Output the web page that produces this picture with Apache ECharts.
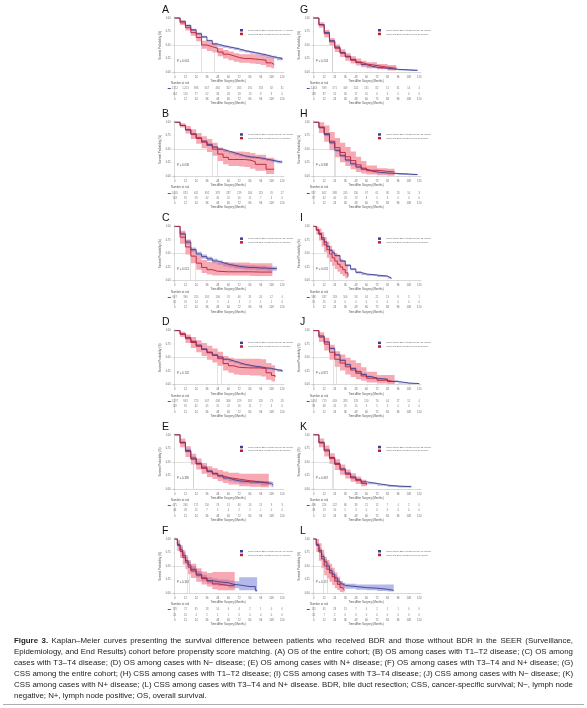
<!DOCTYPE html>
<html><head><meta charset="utf-8">
<script src="https://cdn.jsdelivr.net/npm/echarts@6/dist/echarts.min.js"></script>
<style>html,body{margin:0;padding:0;background:#fff}#c{width:587px;height:708px}</style>
</head><body><div id="c"></div><script>
// ---------- data ----------
const timeTicks = [0,12,24,36,48,60,72,84,96,108,120];
const yTicks = [0,0.25,0.5,0.75,1];
const panelLetters = ['A','B','C','D','E','F','G','H','I','J','K','L'];
const pLabels = ['P = 0.001','P = 0.038','P = 0.021','P = 0.102','P = 0.385','P = 0.362','P = 0.224','P = 0.938','P = 0.031','P = 0.871','P = 0.467','P = 0.157'];
const medianNoBDR = [44,48,23,52,21,16,21,23,22,26,22,16];
const medianBDR   = [30,42,17,47,21,14,21,25,18,22,21,11];
const seriesNameNoBDR = 'Cases without BDR (Median survival: {m} months)';
const seriesNameBDR   = 'Cases with BDR (Median survival: {m} months)';

// curves: [time, survival, lower CI, upper CI]
const A_noBDR = [[0,1,1,1],[6,.94,.93,.95],[12,.86,.84,.88],[18,.78,.76,.80],[24,.71,.69,.73],[30,.65,.63,.67],[36,.58,.56,.60],[42,.52,.50,.54],[48,.49,.47,.51],[54,.47,.45,.49],[60,.45,.43,.47],[66,.43,.41,.45],[72,.40,.38,.42],[78,.38,.36,.40],[84,.36,.34,.38],[90,.34,.32,.36],[96,.32,.30,.34],[102,.29,.27,.32],[108,.27,.25,.30],[114,.25,.22,.28],[120,.23,.20,.26]];
const A_BDR = [[0,1,1,1],[6,.91,.87,.95],[12,.82,.77,.87],[18,.73,.67,.79],[24,.64,.57,.71],[30,.50,.43,.58],[36,.47,.39,.55],[42,.44,.36,.52],[48,.37,.29,.45],[54,.33,.25,.41],[60,.30,.22,.38],[66,.27,.19,.35],[72,.25,.17,.33],[78,.25,.17,.33],[84,.24,.16,.33],[90,.23,.15,.32],[96,.22,.13,.32],[102,.17,.09,.28],[108,.14,.07,.26],[111,.14,.07,.26]];
const B_noBDR = [[0,1,1,1],[6,.94,.93,.95],[12,.86,.84,.88],[18,.78,.76,.80],[24,.71,.69,.73],[30,.65,.63,.67],[36,.59,.57,.61],[42,.54,.52,.56],[48,.50,.48,.52],[54,.47,.45,.49],[60,.44,.42,.46],[66,.41,.39,.43],[72,.38,.36,.40],[78,.36,.34,.38],[84,.35,.33,.37],[90,.34,.32,.36],[96,.32,.30,.34],[102,.30,.28,.32],[108,.28,.26,.31],[114,.26,.24,.29],[120,.25,.22,.28]];
const B_BDR = [[0,1,1,1],[6,.94,.90,.98],[12,.86,.79,.93],[18,.78,.69,.87],[24,.70,.60,.80],[30,.63,.52,.74],[36,.57,.45,.69],[42,.50,.38,.62],[48,.41,.28,.53],[54,.35,.22,.48],[60,.31,.19,.46],[66,.31,.19,.46],[72,.31,.18,.46],[78,.30,.17,.45],[84,.27,.14,.43],[90,.22,.10,.40],[96,.22,.10,.40],[102,.13,.04,.34],[108,.13,.04,.34],[111,.13,.04,.34]];
const C_noBDR = [[0,1,1,1],[6,.86,.83,.89],[12,.71,.67,.75],[18,.57,.53,.61],[24,.49,.45,.53],[30,.44,.40,.48],[36,.40,.36,.44],[42,.36,.32,.40],[48,.33,.29,.37],[54,.30,.26,.34],[60,.28,.24,.32],[66,.26,.22,.30],[72,.25,.21,.29],[78,.24,.20,.28],[84,.24,.20,.28],[90,.23,.19,.27],[96,.23,.19,.27],[102,.22,.18,.26],[108,.22,.18,.26],[114,.22,.18,.26]];
const C_BDR = [[0,1,1,1],[6,.80,.68,.92],[12,.62,.48,.76],[18,.45,.32,.58],[24,.32,.20,.45],[30,.24,.14,.38],[36,.20,.11,.34],[42,.17,.09,.33],[48,.16,.09,.33],[60,.16,.09,.33],[72,.16,.09,.33],[84,.155,.08,.32],[96,.155,.08,.32],[109,.155,.08,.32]];
const D_noBDR = [[0,1,1,1],[6,.94,.93,.95],[12,.87,.85,.89],[18,.80,.78,.82],[24,.73,.71,.75],[30,.66,.64,.68],[36,.60,.58,.62],[42,.55,.53,.57],[48,.51,.49,.53],[54,.47,.45,.49],[60,.44,.42,.46],[66,.41,.39,.43],[72,.38,.36,.40],[78,.36,.34,.38],[84,.34,.32,.36],[90,.33,.31,.35],[96,.31,.29,.33],[102,.30,.28,.32],[108,.28,.26,.30],[114,.26,.24,.29],[120,.24,.21,.27]];
const D_BDR = [[0,1,1,1],[6,.93,.88,.98],[12,.85,.77,.93],[18,.78,.68,.88],[24,.71,.60,.82],[30,.65,.53,.77],[36,.59,.46,.72],[42,.54,.41,.67],[48,.48,.35,.61],[54,.39,.26,.53],[60,.35,.22,.50],[66,.32,.19,.48],[72,.31,.18,.48],[84,.31,.17,.48],[96,.30,.15,.47],[102,.22,.09,.40],[108,.17,.06,.36],[112,.14,.04,.34]];
const E_noBDR = [[0,1,1,1],[6,.86,.84,.88],[12,.71,.68,.74],[18,.57,.54,.60],[24,.47,.44,.50],[30,.40,.37,.43],[36,.33,.30,.36],[42,.28,.25,.31],[48,.24,.21,.27],[54,.20,.17,.23],[60,.17,.14,.20],[66,.15,.12,.18],[72,.13,.10,.16],[84,.12,.09,.15],[96,.10,.06,.14],[108,.07,.03,.13],[110,.07,.03,.13]];
const E_BDR = [[0,1,1,1],[6,.85,.77,.93],[12,.69,.59,.79],[18,.55,.45,.65],[24,.46,.36,.56],[30,.38,.28,.48],[36,.32,.22,.42],[42,.28,.18,.38],[48,.24,.14,.35],[54,.21,.11,.32],[60,.18,.08,.30],[72,.15,.05,.28],[84,.13,.04,.28],[96,.12,.03,.28],[105,.12,.03,.28]];
const F_noBDR = [[0,1,1,1],[3,.90,.86,.94],[6,.80,.75,.85],[9,.70,.64,.76],[12,.60,.54,.66],[15,.52,.46,.58],[18,.44,.38,.50],[24,.35,.29,.41],[30,.28,.22,.34],[36,.23,.17,.29],[42,.21,.15,.27],[48,.19,.13,.25],[60,.16,.10,.23],[66,.15,.09,.22],[72,.12,.05,.29],[84,.12,.05,.29],[90,.05,.02,.29],[92,.05,.02,.29]];
const F_BDR = [[0,1,1,1],[3,.88,.78,.98],[6,.77,.65,.89],[9,.66,.53,.79],[12,.57,.44,.70],[15,.48,.35,.61],[18,.41,.28,.54],[24,.33,.21,.46],[30,.27,.16,.40],[36,.22,.12,.37],[42,.17,.07,.39],[48,.14,.05,.39],[60,.14,.05,.39],[67,.14,.05,.39]];
const G_noBDR = [[0,1,1,1],[6,.88,.87,.89],[12,.73,.71,.75],[18,.58,.56,.60],[24,.46,.44,.48],[30,.36,.34,.38],[36,.29,.27,.31],[42,.23,.21,.25],[48,.18,.16,.20],[54,.14,.12,.16],[60,.11,.095,.125],[66,.09,.075,.105],[72,.07,.06,.085],[84,.05,.04,.065],[96,.04,.03,.055],[108,.03,.02,.045],[118,.02,.01,.035]];
const G_BDR = [[0,1,1,1],[6,.87,.82,.92],[12,.71,.64,.78],[18,.56,.49,.63],[24,.44,.37,.51],[30,.35,.28,.42],[36,.28,.21,.35],[42,.22,.16,.29],[48,.18,.12,.25],[54,.15,.09,.21],[60,.12,.07,.18],[72,.09,.05,.15],[84,.07,.03,.13],[94,.07,.03,.13]];
const H_noBDR = [[0,1,1,1],[6,.90,.88,.92],[12,.77,.74,.80],[18,.62,.59,.65],[24,.48,.45,.51],[30,.38,.35,.41],[36,.30,.27,.33],[42,.23,.20,.26],[48,.17,.15,.19],[54,.13,.11,.15],[60,.10,.08,.12],[66,.08,.065,.095],[72,.06,.045,.075],[84,.05,.035,.065],[96,.04,.025,.055],[108,.03,.02,.045],[118,.02,.01,.035]];
const H_BDR = [[0,1,1,1],[6,.91,.80,1],[12,.79,.64,.94],[18,.65,.48,.82],[24,.53,.35,.71],[30,.44,.26,.62],[36,.36,.19,.54],[42,.29,.13,.46],[48,.21,.08,.36],[54,.15,.05,.28],[60,.11,.03,.20],[72,.09,.02,.15],[84,.08,.01,.14],[92,.08,.01,.14]];
const I_noBDR = [[0,1,1,1],[3,.94,.93,.95],[6,.87,.85,.89],[9,.79,.77,.81],[12,.71,.69,.73],[15,.63,.61,.65],[18,.56,.54,.58],[21,.51,.49,.53],[24,.46,.44,.48],[30,.36,.34,.38],[36,.28,.26,.30],[42,.21,.19,.23],[48,.15,.13,.17],[54,.12,.10,.14],[60,.10,.085,.115],[72,.08,.065,.095],[84,.05,.035,.065],[88,.03,.02,.045]];
const I_BDR = [[0,1,1,1],[3,.93,.85,1],[6,.85,.74,.96],[9,.76,.63,.89],[12,.66,.52,.80],[15,.57,.42,.72],[18,.49,.34,.64],[21,.42,.27,.57],[24,.36,.21,.51],[27,.30,.16,.45],[30,.25,.12,.40],[33,.20,.08,.35],[36,.14,.04,.29],[39,.07,.01,.22]];
const J_noBDR = [[0,1,1,1],[6,.90,.88,.92],[12,.79,.77,.81],[18,.67,.65,.69],[24,.55,.53,.57],[30,.45,.43,.47],[36,.37,.35,.39],[42,.30,.28,.32],[48,.24,.22,.26],[54,.19,.17,.21],[60,.15,.13,.17],[66,.12,.10,.14],[72,.10,.085,.115],[84,.06,.045,.075],[96,.03,.02,.045],[108,.02,.01,.03],[120,.01,.005,.02]];
const J_BDR = [[0,1,1,1],[6,.88,.79,.97],[12,.75,.63,.87],[18,.60,.46,.74],[24,.47,.33,.62],[30,.40,.26,.56],[36,.33,.19,.50],[42,.27,.14,.45],[48,.21,.10,.40],[54,.16,.07,.32],[60,.12,.04,.24],[72,.08,.02,.18],[84,.05,.01,.18],[92,.05,.01,.18]];
const K_noBDR = [[0,1,1,1],[6,.86,.84,.88],[12,.72,.70,.74],[18,.58,.56,.60],[24,.47,.45,.49],[30,.37,.35,.39],[36,.29,.27,.31],[42,.22,.20,.24],[48,.17,.15,.19],[54,.13,.11,.15],[60,.10,.085,.115],[72,.07,.055,.085],[84,.05,.035,.065],[96,.04,.025,.055],[111,.03,.015,.045]];
const K_BDR = [[0,1,1,1],[6,.85,.77,.93],[12,.70,.60,.80],[18,.56,.46,.66],[24,.45,.35,.55],[30,.35,.26,.45],[36,.27,.19,.36],[42,.20,.13,.29],[48,.15,.09,.23],[54,.10,.05,.17],[60,.07,.02,.14]];
const L_noBDR = [[0,1,1,1],[3,.90,.87,.93],[6,.79,.75,.83],[9,.68,.63,.73],[12,.58,.53,.63],[15,.50,.45,.55],[18,.42,.37,.47],[21,.35,.30,.40],[24,.28,.23,.33],[27,.22,.17,.27],[30,.17,.12,.22],[33,.14,.09,.19],[36,.12,.08,.17],[48,.10,.06,.16],[60,.09,.05,.16],[72,.07,.04,.16],[84,.05,.03,.16],[91,.04,.02,.16]];
const L_BDR = [[0,1,1,1],[3,.88,.76,1],[6,.76,.60,.92],[9,.63,.46,.80],[12,.50,.33,.67],[15,.44,.27,.61],[18,.37,.21,.54],[21,.30,.15,.47],[24,.22,.09,.38],[27,.16,.05,.30],[30,.10,.02,.22],[33,.07,.01,.18],[35,.05,0,.15]];

// number at risk at 0,12,...,120 months
const A_riskNoBDR = [1712,1213,896,657,484,357,265,191,133,82,31];
const A_riskBDR   = [164,120,77,52,36,26,18,13,8,3,0];
const B_riskNoBDR = [1045,823,641,492,378,287,219,160,113,70,27];
const B_riskBDR   = [103,81,59,42,30,22,16,11,7,3,0];
const C_riskNoBDR = [667,390,255,165,106,70,46,31,20,12,4];
const C_riskBDR   = [61,31,14,8,5,4,3,2,1,1,0];
const D_riskNoBDR = [1237,953,725,547,408,306,229,167,118,73,28];
const D_riskBDR   = [118,92,62,45,31,22,16,11,7,3,0];
const E_riskNoBDR = [475,260,171,110,76,51,36,24,15,9,3];
const E_riskBDR   = [46,28,15,7,5,4,2,2,1,0,0];
const F_riskNoBDR = [170,72,35,18,10,6,4,2,1,0,0];
const F_riskBDR   = [25,10,4,2,1,1,0,0,0,0,0];
const G_riskNoBDR = [1443,939,571,349,214,131,82,51,31,14,4];
const G_riskBDR   = [138,87,52,30,17,10,6,3,0,0,0];
const H_riskNoBDR = [857,602,388,245,156,97,61,38,23,10,3];
const H_riskBDR   = [87,62,40,23,13,8,5,3,0,0,0];
const I_riskNoBDR = [586,337,183,104,58,34,21,13,8,3,1];
const I_riskBDR   = [51,25,11,0,0,0,0,0,0,0,0];
const J_riskNoBDR = [1034,715,449,283,176,110,70,44,27,12,4];
const J_riskBDR   = [99,68,42,25,14,9,5,3,0,0,0];
const K_riskNoBDR = [409,224,122,66,38,21,12,7,4,2,0];
const K_riskBDR   = [39,19,10,5,3,0,0,0,0,0,0];
const L_riskNoBDR = [151,65,28,13,7,4,2,1,1,0,0];
const L_riskBDR   = [20,7,2,0,0,0,0,0,0,0,0];

const captionLines = [
 'Figure 3. Kaplan–Meier curves presenting the survival difference between patients who received BDR and those without BDR in the SEER (Surveillance,',
 'Epidemiology, and End Results) cohort before propensity score matching. (A) OS of the entire cohort; (B) OS among cases with T1–T2 disease; (C) OS among',
 'cases with T3–T4 disease; (D) OS among cases with N− disease; (E) OS among cases with N+ disease; (F) OS among cases with T3–T4 and N+ disease; (G)',
 'CSS among the entire cohort; (H) CSS among cases with T1–T2 disease; (I) CSS among cases with T3–T4 disease; (J) CSS among cases with N− disease; (K)',
 'CSS among cases with N+ disease; (L) CSS among cases with T3–T4 and N+ disease. BDR, bile duct resection; CSS, cancer-specific survival; N−, lymph node',
 'negative; N+, lymph node positive; OS, overall survival.'
];

// ---------- build ----------
const panels = [
 [A_noBDR,A_BDR,A_riskNoBDR,A_riskBDR],[B_noBDR,B_BDR,B_riskNoBDR,B_riskBDR],
 [C_noBDR,C_BDR,C_riskNoBDR,C_riskBDR],[D_noBDR,D_BDR,D_riskNoBDR,D_riskBDR],
 [E_noBDR,E_BDR,E_riskNoBDR,E_riskBDR],[F_noBDR,F_BDR,F_riskNoBDR,F_riskBDR],
 [G_noBDR,G_BDR,G_riskNoBDR,G_riskBDR],[H_noBDR,H_BDR,H_riskNoBDR,H_riskBDR],
 [I_noBDR,I_BDR,I_riskNoBDR,I_riskBDR],[J_noBDR,J_BDR,J_riskNoBDR,J_riskBDR],
 [K_noBDR,K_BDR,K_riskNoBDR,K_riskBDR],[L_noBDR,L_BDR,L_riskNoBDR,L_riskBDR]
];
const FONT = 'Liberation Sans';
const BLUE = '#403f8c', RED = '#b8213a';
const BLUE_BAND = 'rgba(118,128,215,0.55)', RED_BAND = 'rgba(238,96,116,0.55)';
const AX = '#b5b5b5', TXT = '#666';

const grids=[], xAxes=[], yAxes=[], series=[], legends=[], graphics=[];

function bandSeries(pts, gi, color){
  return {type:'custom', xAxisIndex:gi, yAxisIndex:gi, silent:true, z:1, clip:false,
    data: pts.map(d=>[d[0], d[2], d[3]]),
    encode:{x:0, y:[1,2]},
    renderItem:(params, api)=>{
      if(params.dataIndex!==0) return null;
      const up=[], low=[];
      for(let k=0;k<pts.length;k++){
        const t0=pts[k][0], t1=k+1<pts.length?pts[k+1][0]:pts[k][0];
        up.push(api.coord([t0,pts[k][3]]), api.coord([t1,pts[k][3]]));
        low.push(api.coord([t0,pts[k][2]]), api.coord([t1,pts[k][2]]));
      }
      return {type:'polygon', shape:{points:up.concat(low.reverse())}, style:{fill:color}};
    }};
}
function xAxisCfg(gi){
  return {gridIndex:gi, type:'value', min:-3, max:122,
    axisLine:{lineStyle:{color:AX,width:0.5}},
    axisTick:{customValues:timeTicks, length:1.2, lineStyle:{color:AX,width:0.4}},
    axisLabel:{customValues:timeTicks, fontSize:2.6, color:TXT, margin:1.3, fontFamily:FONT},
    splitLine:{show:false},
    name:'Time After Surgery (Months)', nameLocation:'middle', nameGap:5.5,
    nameTextStyle:{fontSize:2.8, color:'#555', fontFamily:FONT}};
}

panels.forEach((p,i)=>{
  const col = i<6?0:1, row = i%6;
  const base = row*104.2;
  const L = col?311:172, W = col?110:112;
  const [no, yes, rNo, rYes] = p;
  // KM plot
  grids.push({left:L, top:base+16.4, width:W, height:57.8, outerBoundsMode:'none'});
  const gk = grids.length-1;
  xAxes.push(xAxisCfg(gk));
  yAxes.push({gridIndex:gk, type:'value', min:-0.04, max:1.03,
    axisLine:{show:true, lineStyle:{color:AX,width:0.5}},
    axisTick:{show:true, customValues:yTicks, length:1.2, lineStyle:{color:AX,width:0.4}},
    axisLabel:{customValues:yTicks, formatter:v=>v.toFixed(2), fontSize:2.6, color:TXT, margin:1.3, fontFamily:FONT},
    splitLine:{show:false},
    name:'Survival Probability (%)', nameLocation:'middle', nameGap:8, nameRotate:90,
    nameTextStyle:{fontSize:2.8, color:'#555', fontFamily:FONT}});
  const nNo = seriesNameNoBDR.replace('{m}', medianNoBDR[i])+'|'+i;
  const nYes = seriesNameBDR.replace('{m}', medianBDR[i])+'|'+i;
  series.push(bandSeries(no, gk, BLUE_BAND));
  series.push(bandSeries(yes, gk, RED_BAND));
  const mMax = Math.max(medianNoBDR[i], medianBDR[i]);
  series.push({type:'line', name:nNo, xAxisIndex:gk, yAxisIndex:gk, step:'end', symbol:'none', silent:true, z:3,
    data:no.map(d=>[d[0],d[1]]), lineStyle:{color:BLUE,width:0.9}, itemStyle:{color:BLUE},
    markLine:{silent:true, symbol:'none', label:{show:false}, lineStyle:{color:'#c4c4c4',width:0.5,type:'solid'}, z:2,
      data:[[{coord:[-3,0.5]},{coord:[mMax,0.5]}],[{coord:[medianNoBDR[i],0.5]},{coord:[medianNoBDR[i],0]}],[{coord:[medianBDR[i],0.5]},{coord:[medianBDR[i],0]}]]}});
  series.push({type:'line', name:nYes, xAxisIndex:gk, yAxisIndex:gk, step:'end', symbol:'none', silent:true, z:4,
    data:yes.map(d=>[d[0],d[1]]), lineStyle:{color:RED,width:0.9}, itemStyle:{color:RED}});
  legends.push({left: col?378:240, top: base+29, orient:'vertical', padding:0, itemGap:1.2,
    itemWidth:3, itemHeight:2.5, icon:'rect', selectedMode:false, data:[nNo,nYes],
    formatter:n=>n.split('|')[0], textStyle:{fontSize:2.1, color:'#666', fontFamily:FONT}});
  // risk table
  grids.push({left:L, top:base+86, width:W, height:10.5, outerBoundsMode:'none'});
  const gt = grids.length-1;
  xAxes.push(xAxisCfg(gt));
  yAxes.push({gridIndex:gt, type:'category', data:['No','Yes'], inverse:true,
    axisLine:{show:true, lineStyle:{color:AX,width:0.5}}, axisTick:{show:false},
    axisLabel:{margin:1.2, formatter:v=>v==='No'?'{b|▬}':'{r|▬}',
      rich:{b:{color:BLUE,fontSize:3},r:{color:RED,fontSize:3}}}});
  [[rNo,'No'],[rYes,'Yes']].forEach(([arr,cat])=>{
    series.push({type:'scatter', xAxisIndex:gt, yAxisIndex:gt, symbolSize:1, silent:true,
      itemStyle:{color:'rgba(0,0,0,0)'},
      data:timeTicks.map((t,j)=>[t,cat,arr[j]]),
      label:{show:true, position:'inside', formatter:q=>q.value[2].toLocaleString('en-US'),
        fontSize:2.6, color:'#555', fontFamily:FONT}});
  });
  // panel letter, P value, table title
  graphics.push({type:'text', x: col?300:162, y: base+10, style:{text:panelLetters[i], fontSize:10.5, fontFamily:FONT, fill:'#111', verticalAlign:'middle'}});
  graphics.push({type:'text', x: L+5, y: base+61, style:{text:pLabels[i], fontSize:2.8, fontFamily:FONT, fill:'#555', verticalAlign:'middle'}});
  graphics.push({type:'text', x: L-1, y: base+83.5, style:{text:'Number at risk', fontSize:2.8, fontFamily:FONT, fill:'#555', verticalAlign:'middle'}});
});

// caption, justified
const ctx = document.createElement('canvas').getContext('2d');
const CX0 = 14, CX1 = 573;
function measure(w, fs, bold){ ctx.font = (bold?'bold ':'')+fs+'px "'+FONT+'"'; return ctx.measureText(w).width; }
let fs = 8;
captionLines.forEach(line=>{
  const words=line.split(' ');
  const wsum = words.reduce((s,w,k)=>s+measure(w,8,k<2&&line.startsWith('Figure')),0)+ (words.length-1)*measure(' ',8,false);
  fs = Math.min(fs, 8*(CX1-CX0)/wsum);
});
captionLines.forEach((line,li)=>{
  const words=line.split(' ');
  const isFirst = line.startsWith('Figure');
  const ws = words.map((w,k)=>measure(w,fs,isFirst&&k<2));
  const total = ws.reduce((a,b)=>a+b,0);
  const last = li===captionLines.length-1;
  const gap = last ? measure(' ',fs,false) : (CX1-CX0-total)/(words.length-1);
  let x = CX0;
  words.forEach((w,k)=>{
    graphics.push({type:'text', x:x, y:641+li*11, style:{text:w, fontSize:fs, fontFamily:FONT, fontWeight:(isFirst&&k<2)?'bold':'normal', fill:'#222', verticalAlign:'middle'}});
    x += ws[k]+gap;
  });
});
graphics.push({type:'line', shape:{x1:3, y1:704.5, x2:584, y2:704.5}, style:{stroke:'#999', lineWidth:0.8}});

const chart = echarts.init(document.getElementById('c'), null, {renderer:'canvas', width:587, height:708});
chart.setOption({
  animation:false,
  backgroundColor:'#fff',
  textStyle:{fontFamily:FONT},
  grid:grids, xAxis:xAxes, yAxis:yAxes, series:series, legend:legends, graphic:graphics
});
</script></body></html>
